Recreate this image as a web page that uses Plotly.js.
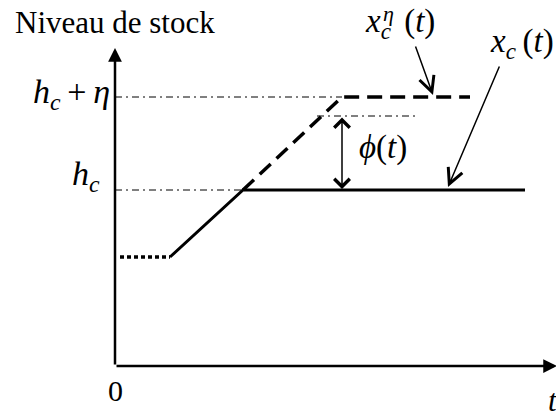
<!DOCTYPE html>
<html>
<head>
<meta charset="utf-8">
<script src="https://cdn.plot.ly/plotly-3.0.1.min.js"></script>
<style>
  html, body { margin: 0; padding: 0; background: #fff; }
  #chart { width: 556px; height: 414px; }
</style>
</head>
<body>
<div id="chart"></div>
<script>
// Stock level diagram: x_c(t) saturates at h_c, x_c^eta(t) at h_c + eta.
// Units: time and level in arbitrary diagram units (origin at the axes corner).

const H0 = 10.9;       // initial stock level
const HC = 17.6;       // h_c
const HC_ETA = 26.9;   // h_c + eta
const PHI_TOP = 25.0;  // upper end of the phi(t) gap marker

const T_DOTTED = [0.5, 5.5];
const LEVEL_DOTTED = [H0, H0];

const T_SOLID = [5.5, 12.8, 41.0];
const LEVEL_SOLID = [H0, HC, HC];

const T_DASHED = [12.8, 22.7, 35.5];
const LEVEL_DASHED = [HC, HC_ETA, HC_ETA];

const T_REF_HC = [0, 12.8];
const T_REF_HC_ETA = [0, 22.7];
const T_REF_PHI = [20.2, 30.0];

const T_PHI = 22.7;
const T_MAX = 44.2, LEVEL_MAX = 31.8;

const SERIF = "Liberation Serif";
const INK = "#000";
const THIN = "\u2009";

const refLine = (x, lvl) => ({
  x, y: x.map(() => lvl), type: "scatter", mode: "lines", hoverinfo: "skip",
  line: { color: INK, width: 1, dash: "7px,4px,2px,4px" },
});

const traces = [
  refLine(T_REF_HC_ETA, HC_ETA),
  refLine(T_REF_HC, HC),
  refLine(T_REF_PHI, PHI_TOP),
  { x: T_DOTTED, y: LEVEL_DOTTED, type: "scatter", mode: "lines",
    line: { color: INK, width: 3.5, dash: "4px,3px" } },
  { x: T_DASHED, y: LEVEL_DASHED, type: "scatter", mode: "lines",
    line: { color: INK, width: 3.5, dash: "15px,8px" } },
  { x: T_SOLID, y: LEVEL_SOLID, type: "scatter", mode: "lines",
    line: { color: INK, width: 3 } },
];

function arrow(x, y, ax, ay, opts) {
  return Object.assign({
    x, y, ax, ay, xref: "x", yref: "y", axref: "x", ayref: "y",
    text: "", showarrow: true, arrowcolor: INK,
    arrowhead: 5, arrowwidth: 1.5, arrowsize: 2,
  }, opts || {});
}

function label(x, y, text, size, opts) {
  return Object.assign({
    x, y, xref: "x", yref: "y", text, showarrow: false,
    font: { family: SERIF, size, color: INK },
  }, opts || {});
}

const annotations = [
  // axes
  arrow(0, LEVEL_MAX, 0, 0, { arrowhead: 2, arrowwidth: 2.5, arrowsize: 1.1 }),
  arrow(T_MAX, 0, 0, 0, { arrowhead: 2, arrowwidth: 2.5, arrowsize: 1.1 }),
  // pointers
  arrow(31.8, 27.1, 30.0, 32.1),
  arrow(33.3, 17.9, 38.5, 30.1),
  arrow(T_PHI, HC + 0.1, T_PHI, PHI_TOP, { arrowside: "end+start", arrowhead: 4, startarrowhead: 4, startarrowsize: 2 }),
  // texts
  label(0, 34.4, "Niveau de stock", 31),
  label(-0.3, HC_ETA + 0.3, "<i>h</i><sub><i>c</i></sub>" + THIN + "+" + THIN + "<i>η</i>", 34, { xanchor: "right" }),
  label(-1.3, HC + 1.4, "<i>h</i><sub><i>c</i></sub>", 34, { xanchor: "right" }),
  label(24.8, 34.3, "<i>x</i><sub><i>c</i></sub>" + THIN + THIN + "(<i>t</i>)", 33, { xanchor: "left" }),
  label(26.6, 35.3, "<i>η</i>", 22, { xanchor: "left" }),
  label(37.3, 32.3, "<i>x</i><sub><i>c</i></sub>" + THIN + "(<i>t</i>)", 33, { xanchor: "left" }),
  label(24.2, 21.9, "<i>ϕ</i>(<i>t</i>)", 33, { xanchor: "left" }),
  label(0, -2.4, "0", 30),
  label(43.8, -3.4, "<i>t</i>", 31),
];

const axisOff = { visible: false, fixedrange: true };

function draw() {
  Plotly.newPlot("chart", traces, {
    width: 556, height: 414,
    margin: { l: 0, r: 0, t: 0, b: 0 },
    paper_bgcolor: "#fff", plot_bgcolor: "#fff",
    font: { family: SERIF, color: INK },
    showlegend: false,
    xaxis: Object.assign({ range: [-11.5, 44.1] }, axisOff),
    yaxis: Object.assign({ range: [-4.8, 36.6] }, axisOff),
    annotations,
  }, { staticPlot: true });
}

// make sure the serif face is ready before plotly measures the labels
Promise.all([
  document.fonts.load(`30px "${SERIF}"`),
  document.fonts.load(`italic 30px "${SERIF}"`),
]).then(draw, draw);
</script>
</body>
</html>
